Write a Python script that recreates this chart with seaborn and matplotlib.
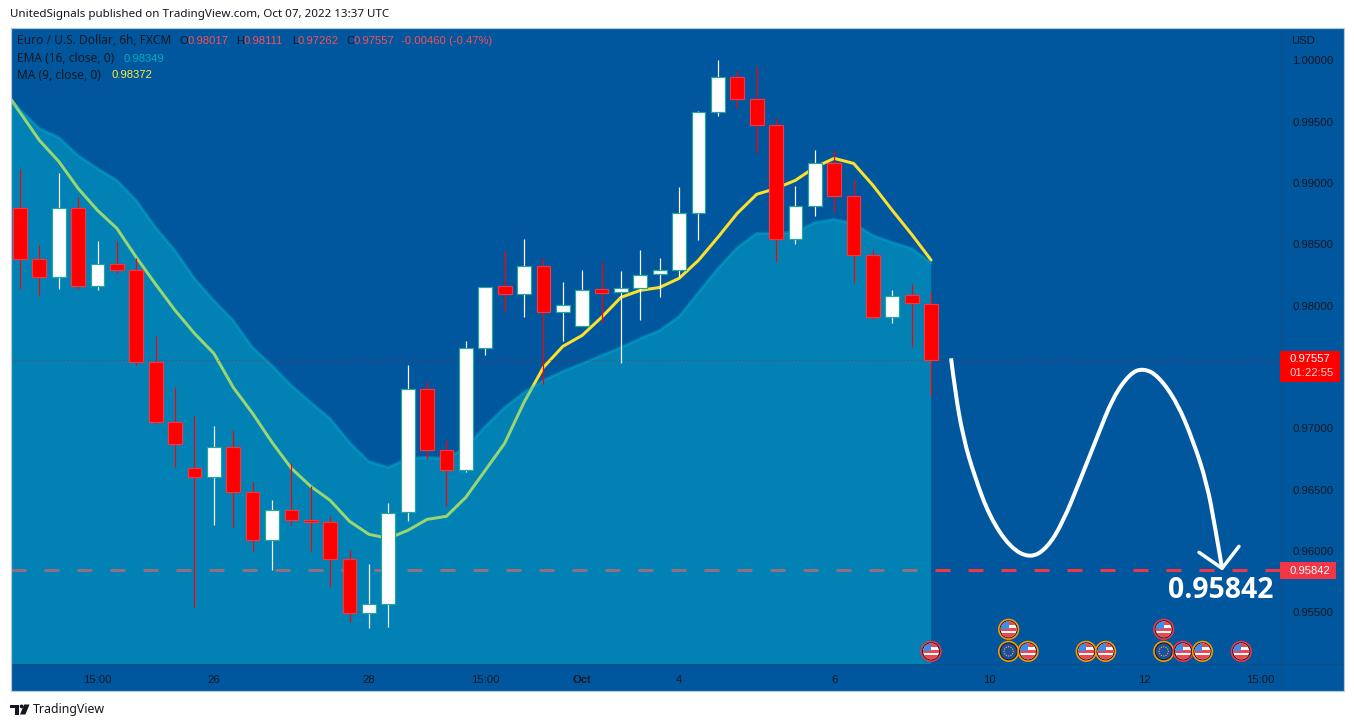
"""EUR/USD 6h candles with EMA area, MA line and a hand drawn target path."""

import numpy as np
import pandas as pd
import matplotlib
matplotlib.use("Agg")
import matplotlib.pyplot as plt
from matplotlib.path import Path
from matplotlib.patches import Circle, PathPatch, Rectangle, Polygon
import seaborn as sns

# candles, one per 6h bar
opens = [0.98793, 0.98378, 0.98231, 0.98793, 0.98157, 0.98337, 0.98288, 0.97538, 0.97049, 0.96674,
         0.96600, 0.96845, 0.96478, 0.96087, 0.96331, 0.96250, 0.96234, 0.95932, 0.95492, 0.95565,
         0.96315, 0.97318, 0.96821, 0.96658, 0.97652, 0.98157, 0.98092, 0.98321, 0.97946, 0.97832,
         0.98133, 0.98109, 0.98141, 0.98255, 0.98288, 0.98753, 0.99576, 0.99861, 0.99682, 0.99470,
         0.98541, 0.98810, 0.99160, 0.98891, 0.98410, 0.97905, 0.98084, 0.98017]
highs = [0.99111, 0.98492, 0.99079, 0.98883, 0.98524, 0.98524, 0.98386, 0.97750, 0.97334, 0.97098,
         0.97016, 0.96984, 0.96560, 0.96413, 0.96715, 0.96527, 0.96283, 0.96005, 0.95891, 0.96388,
         0.97513, 0.97383, 0.96902, 0.97709, 0.98149, 0.98443, 0.98541, 0.98386, 0.98190, 0.98288,
         0.98353, 0.98280, 0.98451, 0.98386, 0.98965, 0.99584, 1.00000, 0.99910, 0.99951, 0.99527,
         0.98973, 0.99266, 0.99266, 0.99030, 0.98451, 0.98125, 0.98174, 0.98111]
lows = [0.98133, 0.98076, 0.98133, 0.98133, 0.98125, 0.98264, 0.97513, 0.97033, 0.96682, 0.95541,
        0.96209, 0.96193, 0.95997, 0.95842, 0.96209, 0.95997, 0.95704, 0.95418, 0.95370, 0.95378,
        0.96242, 0.96747, 0.96364, 0.96641, 0.97595, 0.97946, 0.97905, 0.97359, 0.97709, 0.97832,
        0.97856, 0.97530, 0.97880, 0.98068, 0.98231, 0.98532, 0.99543, 0.99609, 0.99242, 0.98353,
        0.98500, 0.98728, 0.98761, 0.98182, 0.97889, 0.97856, 0.97660, 0.97262]
closes = [0.98378, 0.98231, 0.98793, 0.98157, 0.98337, 0.98288, 0.97538, 0.97049, 0.96869, 0.96600,
          0.96845, 0.96478, 0.96087, 0.96331, 0.96250, 0.96234, 0.95932, 0.95492, 0.95565, 0.96307,
          0.97318, 0.96821, 0.96658, 0.97652, 0.98149, 0.98092, 0.98321, 0.97946, 0.98003, 0.98125,
          0.98100, 0.98141, 0.98247, 0.98288, 0.98753, 0.99576, 0.99861, 0.99682, 0.99470, 0.98541,
          0.98810, 0.99160, 0.98891, 0.98410, 0.97905, 0.98076, 0.98019, 0.97557]

# indicators start one bar before the first candle, it is cut by the axes
ema_bars = list(range(-1, 48))
ema16 = [0.99772, 0.99600, 0.99445, 0.99372, 0.99225, 0.99119, 0.99022, 0.98859, 0.98638, 0.98451,
         0.98223, 0.98043, 0.97880, 0.97660, 0.97513, 0.97351, 0.97212, 0.97081, 0.96886, 0.96731,
         0.96682, 0.96755, 0.96764, 0.96755, 0.96845, 0.97016, 0.97171, 0.97293, 0.97391, 0.97465,
         0.97530, 0.97595, 0.97660, 0.97734, 0.97799, 0.97913, 0.98109, 0.98304, 0.98475, 0.98590,
         0.98590, 0.98598, 0.98679, 0.98704, 0.98671, 0.98573, 0.98516, 0.98467, 0.98349]
ma9 = [0.99804, 0.99576, 0.99348, 0.99176, 0.98956, 0.98777, 0.98630, 0.98394, 0.98174, 0.97962,
       0.97774, 0.97611, 0.97334, 0.97122, 0.96886, 0.96674, 0.96527, 0.96413, 0.96242, 0.96136,
       0.96103, 0.96168, 0.96258, 0.96283, 0.96438, 0.96658, 0.96878, 0.97212, 0.97497, 0.97668,
       0.97758, 0.97905, 0.98068, 0.98125, 0.98149, 0.98223, 0.98370, 0.98557, 0.98753, 0.98908,
       0.98956, 0.99022, 0.99128, 0.99201, 0.99160, 0.98981, 0.98777, 0.98581, 0.98372]

# hand drawn path and arrow head
path_bars = [48.03, 48.23, 48.65, 49.26, 50.04, 51.07, 52.10, 52.98, 53.80, 54.68,
             55.56, 56.38, 57.26, 57.93, 58.70, 59.69, 60.51, 61.23, 61.65, 62.01]
path_prices = [0.97571, 0.97310, 0.96927, 0.96600, 0.96274, 0.96030, 0.95940, 0.96022, 0.96234, 0.96576,
               0.96927, 0.97253, 0.97448, 0.97490, 0.97432, 0.97212, 0.96902, 0.96552, 0.96193, 0.95859]
head_bars = [60.82, 62.01, 62.88]
head_prices = [0.95989, 0.95859, 0.96038]

last_price = 0.97557
target_price = 0.95842

price_ticks = [1.0, 0.995, 0.99, 0.985, 0.98, 0.97, 0.965, 0.96, 0.955]
time_ticks = [4, 10, 18, 24, 29, 34, 42, 50, 58, 64]
time_labels = ["15:00", "26", "28", "15:00", "Oct", "4", "6", "10", "12", "15:00"]

# economic calendar markers
event_bars = [47, 51, 51, 52, 55, 56, 59, 59, 60, 61, 63]
event_rows = [0, 1, 0, 0, 0, 0, 1, 0, 0, 0, 0]
event_flags = ["US", "US", "EU", "US", "US", "US", "US", "EU", "US", "US", "US"]
event_rings = ["#f23645", "#ff9800", "#ff9800", "#ff9800", "#ff9800", "#ff9800",
               "#f23645", "#ff9800", "#f23645", "#ff9800", "#f23645"]

BG = "#01579d"
DARK = "#131722"
RED = "#f23645"
FILL = "#04c5d9"
NUM_FONT = "Liberation Sans"
W, H = 1354, 727
PX = 0.72  # one pixel in points at dpi 100

sns.set_theme(style="white")
plt.rcParams["font.family"] = ["Noto Sans", "DejaVu Sans"]
plt.rcParams["lines.scale_dashes"] = False

fig = plt.figure(figsize=(W / 100, H / 100), dpi=100, facecolor="white")


def px_axes(zorder):
    a = fig.add_axes([0, 0, 1, 1], zorder=zorder)
    a.set_xlim(0, W)
    a.set_ylim(H, 0)
    a.axis("off")
    return a


back = px_axes(0)
back.add_patch(Rectangle((10.5, 27.5), 1333, 663, fc=BG, ec="none"))
back.plot([1281, 1281], [28, 690], color="#0f4e85", lw=PX)
back.plot([11, 1343], [664, 664], color="#0f4e85", lw=PX)

ax = fig.add_axes([11 / W, 1 - 664 / H, 1270 / W, 637 / H], zorder=1)
ax.patch.set_visible(False)  # the back axes already paints the panel
bars = np.arange(len(opens))
candles = pd.DataFrame({"bar": bars, "o": opens, "h": highs, "l": lows, "c": closes})
candles["up"] = candles["c"] > candles["o"]
ind = pd.DataFrame({"bar": ema_bars, "ema": ema16, "ma": ma9})

# levels and MA go under the translucent area, that is what turns them grey and green
ax.axhline(target_price, color=RED, lw=3 * PX, dashes=(15 * PX, 18 * PX), dash_capstyle="butt", zorder=1)
sns.lineplot(data=ind, x="bar", y="ma", color="#fde02c", lw=3 * PX, estimator=None, zorder=2, ax=ax)
ax.fill_between(ind["bar"], ind["ema"], 0.9, color=FILL, alpha=0.4, lw=0, zorder=3)
sns.lineplot(data=ind, x="bar", y="ema", color=FILL, alpha=0.3, lw=3 * PX, estimator=None, zorder=3, ax=ax)
ax.axhline(last_price, color="#ff0000", lw=0.8 * PX, dashes=(PX, 2.5 * PX), dash_capstyle="butt", alpha=0.8, zorder=3.5)

# candles
wick_colors = np.where(candles["up"], "white", "#ff0000")
ax.vlines(candles["bar"], candles["l"], candles["h"], colors=wick_colors, lw=1.2 * PX, zorder=4)
ax.bar(candles["bar"], (candles["c"] - candles["o"]).abs(), bottom=candles[["o", "c"]].min(axis=1), width=0.71,
       color=np.where(candles["up"], "white", "#ff0000"),
       edgecolor=np.where(candles["up"], "#26a69a", RED), lw=1.2 * PX, zorder=5)

# hand drawing, the read points act as control points of a smooth curve
verts = [(path_bars[0], path_prices[0])]
codes = [Path.MOVETO]
for i in range(1, len(path_bars) - 1):
    verts.append((path_bars[i], path_prices[i]))
    verts.append(((path_bars[i] + path_bars[i + 1]) / 2, (path_prices[i] + path_prices[i + 1]) / 2))
    codes += [Path.CURVE3, Path.CURVE3]
verts.append((path_bars[-1], path_prices[-1]))
codes.append(Path.LINETO)
ax.add_patch(PathPatch(Path(verts, codes), fc="none", ec="white", lw=4 * PX, capstyle="butt", zorder=6))
sns.lineplot(x=head_bars, y=head_prices, color="white", lw=3.5 * PX, estimator=None, sort=False, zorder=6, ax=ax)

ax.set_xlim(-0.464, 65.05)
ax.set_ylim(0.95076 + 0.00003, 1.00269 + 0.00003)
ax.set_xlabel("")
ax.set_ylabel("")
ax.yaxis.tick_right()
ax.set_yticks(price_ticks)
ax.set_yticklabels([f"{p:.5f}" for p in price_ticks], family=NUM_FONT)
ax.set_xticks(time_ticks)
ax.set_xticklabels(time_labels, family=NUM_FONT)
ax.tick_params(axis="y", length=0, pad=8, labelsize=8.1, labelcolor=DARK)
ax.tick_params(axis="x", length=0, pad=8, labelsize=8.1, labelcolor=DARK)
ax.get_xticklabels()[4].set_fontweight("bold")
for spine in ax.spines.values():
    spine.set_visible(False)

top = px_axes(2)
top.add_patch(Rectangle((10.5, 27.5), 1333, 663, fc="none", ec="#b4c9de", lw=1.2 * PX))


def label(x, y, s, color=DARK, size=8.6, **kw):
    top.text(x, y, s, color=color, fontsize=size, va="center", **kw)


def num(x, y, s, color=DARK):
    label(x, y, s, color, 8.1, family=NUM_FONT)


label(10, 15, "UnitedSignals published on TradingView.com, Oct 07, 2022 13:37 UTC", size=8.36)
label(17, 41, "Euro / U.S. Dollar, 6h, FXCM")
SALMON = "#f5505a"
for x, s, c in [(180, "O", DARK), (187, "0.98017", SALMON), (236, "H", DARK), (243, "0.98111", SALMON),
                (292, "L", DARK), (297, "0.97262", SALMON), (346, "C", DARK), (353, "0.97557", SALMON),
                (401, "-0.00460 (-0.47%)", SALMON)]:
    num(x, 41, s, c)
label(17, 58.5, "EMA (16, close, 0)")
num(124, 58.5, "0.98349", "#00acc1")
label(17, 75.5, "MA (9, close, 0)")
num(112, 75.5, "0.98372", "#ffeb3b")
num(1291, 41, "USD")

# price tags on the scale
top.add_patch(Rectangle((1280, 351), 60, 31, fc="#ff0000", ec="none"))
num(1289, 359.5, f"{last_price:.5f}", "white")
num(1289, 373.5, "01:22:55", "#ffd0d0")
top.add_patch(Rectangle((1280, 562), 56, 17, fc=RED, ec="none"))
num(1289, 570.5, f"{target_price:.5f}", "white")

top.text(1220.5, 591, f"{target_price:.5f}", color="white", fontsize=20.4, family="Open Sans", fontweight="bold",
         ha="center", va="center")


def draw_event(cx, cy, flag, ring):
    top.add_patch(Circle((cx, cy), 9.8, fc="#131722", ec=ring, lw=1.6 * PX, zorder=3))
    disc = Circle((cx, cy), 8, fc="white" if flag == "US" else "#1c4f9c", ec="none", zorder=3.1)
    top.add_patch(disc)
    if flag == "US":
        shapes = [Rectangle((cx - 9, cy - 9), 18, 5, fc="#f0474f", ec="none"),
                  Rectangle((cx - 9, cy - 1), 18, 3, fc="#f0474f", ec="none"),
                  Rectangle((cx - 9, cy + 4), 18, 5, fc="#f0474f", ec="none"),
                  Rectangle((cx - 9, cy - 9), 9, 9, fc="#3d8bea", ec="none")]
        for s in shapes:
            top.add_patch(s)
            s.set_zorder(3.2)
            s.set_clip_path(disc)
    else:
        for a in np.deg2rad(np.arange(0, 360, 30)):
            top.add_patch(Circle((cx + 4.6 * np.cos(a), cy + 4.6 * np.sin(a)), 0.6, fc="#f5c542", ec="none", zorder=3.2))


row_prices = {0: 0.95182, 1: 0.95362}
for b, r, flag, ring in zip(event_bars, event_rows, event_flags, event_rings):
    dx, dy = ax.transData.transform((b, row_prices[r]))
    draw_event(dx, H - dy, flag, ring)

# TradingView mark
top.add_patch(Polygon([(10, 704.5), (19, 704.5), (19, 714.5), (15, 714.5), (15, 708), (10, 708)], fc=DARK, ec="none"))
top.add_patch(Circle((21.6, 706.4), 1.9, fc=DARK, ec="none"))
top.add_patch(Polygon([(24.2, 704.5), (29.5, 704.5), (25.4, 714.5), (20, 714.5)], fc=DARK, ec="none"))
label(33, 709.5, "TradingView", size=8.9)

fig.savefig("out.png", dpi=100, facecolor="white")
plt.close(fig)
